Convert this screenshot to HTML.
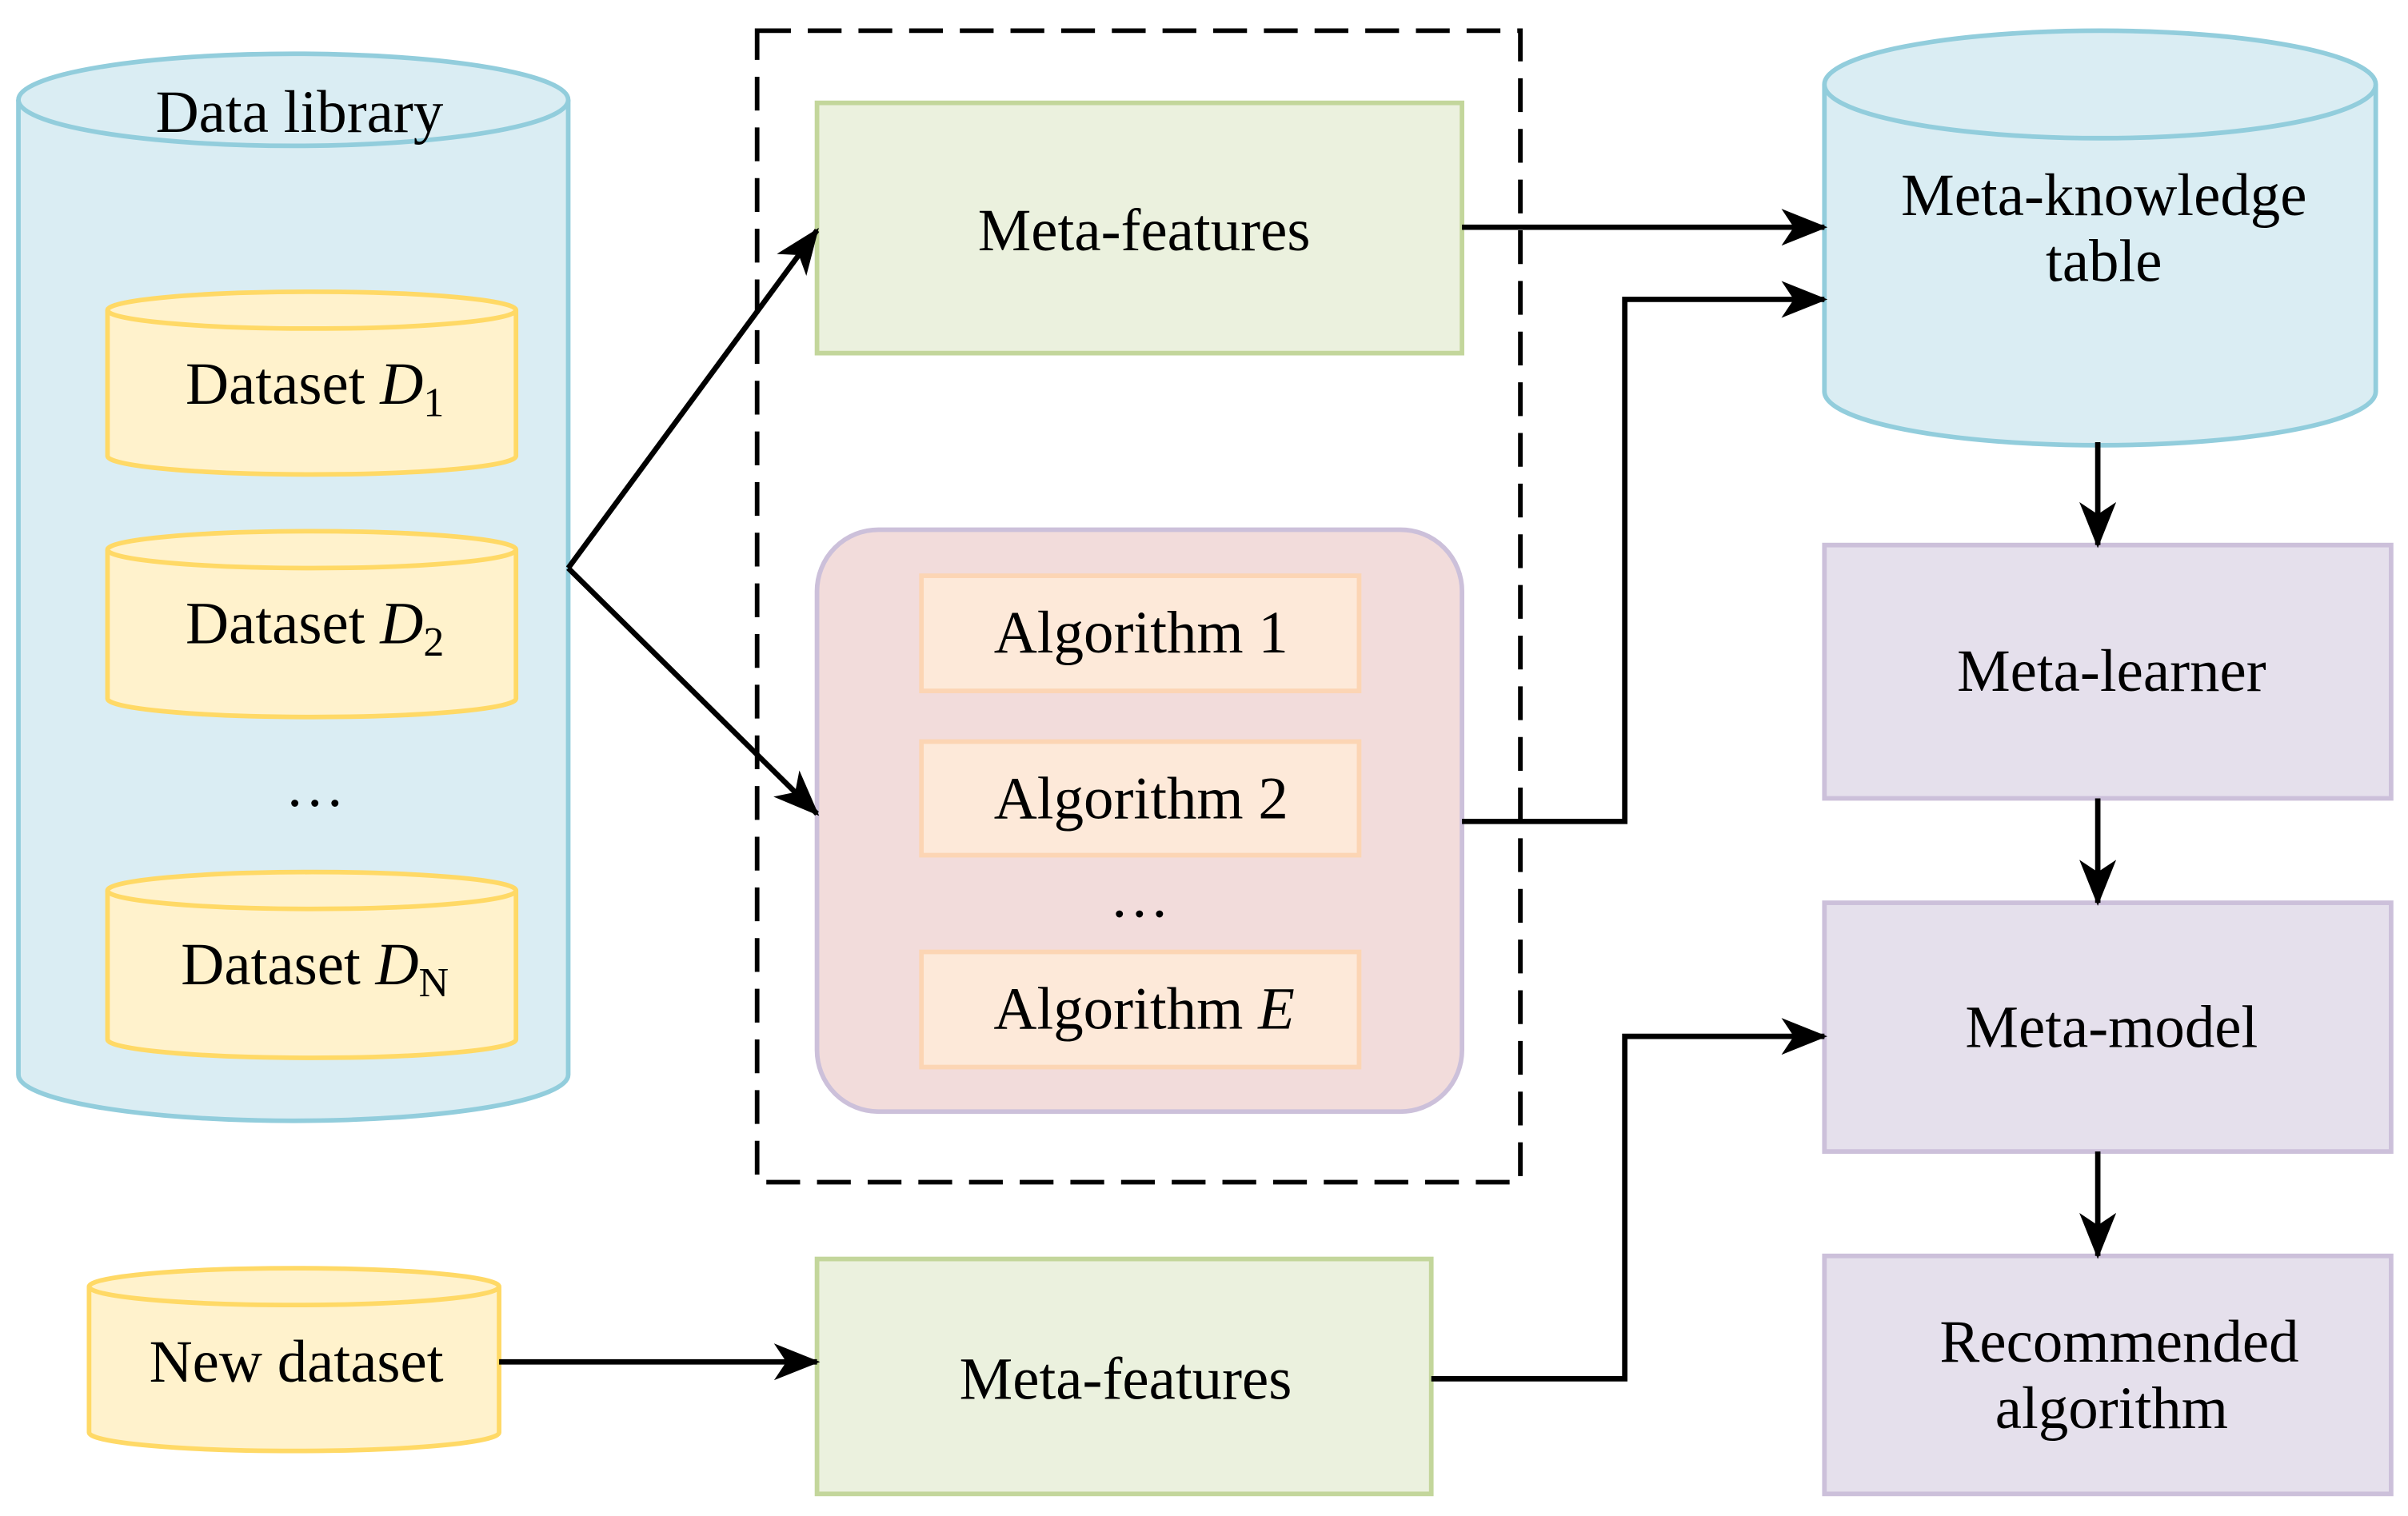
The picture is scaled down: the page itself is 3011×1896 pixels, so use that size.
<!DOCTYPE html>
<html><head><meta charset="utf-8"><style>html,body{margin:0;padding:0;background:#fff}svg{display:block}text,tspan{font-family:"Liberation Serif","Times New Roman","DejaVu Serif",serif}</style></head>
<body>
<svg width="3011" height="1896" viewBox="0 0 1568 987.4" preserveAspectRatio="none" xmlns="http://www.w3.org/2000/svg" font-size="39" text-anchor="middle">
<defs>
<marker id="ah" viewBox="0 0 30 24" refX="28" refY="12" markerWidth="30" markerHeight="24" markerUnits="userSpaceOnUse" orient="auto"><path d="M0,0 L30,12 L0,24 L8,12 Z" fill="#000"/></marker>
</defs>
<path d="M12,65 L12,700 A179,30 0 0 0 370,700 L370,65" fill="#daedf3" stroke="#92cddc" stroke-width="3"/>
<ellipse cx="191" cy="65" rx="179" ry="30" fill="#daedf3" stroke="#92cddc" stroke-width="3"/>
<text x="195" y="86">Data library</text>
<g fill="#fff2cc" stroke="#ffd966" stroke-width="3">
<path d="M70,202 L70,297 A133,12 0 0 0 336,297 L336,202"/><ellipse cx="203" cy="202" rx="133" ry="12"/>
<path d="M70,358 L70,455 A133,12 0 0 0 336,455 L336,358"/><ellipse cx="203" cy="358" rx="133" ry="12"/>
<path d="M70,580 L70,677 A133,12 0 0 0 336,677 L336,580"/><ellipse cx="203" cy="580" rx="133" ry="12"/>
<path d="M58,838 L58,933 A133,12 0 0 0 325,933 L325,838"/><ellipse cx="191.5" cy="838" rx="133.5" ry="12"/>
</g>
<text x="205" y="263">Dataset <tspan font-style="italic">D</tspan><tspan font-size="27" dy="8">1</tspan></text>
<text x="205" y="419">Dataset <tspan font-style="italic">D</tspan><tspan font-size="27" dy="8">2</tspan></text>
<text x="205" y="525">…</text>
<text x="205" y="641">Dataset <tspan font-style="italic">D</tspan><tspan font-size="27" dy="8">N</tspan></text>
<text x="193" y="900">New dataset</text>
<rect x="493" y="20" width="497" height="750" fill="none" stroke="#000" stroke-width="3" stroke-dasharray="22,11"/>
<rect x="532" y="67" width="420" height="163" fill="#ebf1de" stroke="#c3d69b" stroke-width="3"/>
<text x="745" y="163">Meta-features</text>
<rect x="532" y="820" width="400" height="153" fill="#ebf1de" stroke="#c3d69b" stroke-width="3"/>
<text x="733" y="911">Meta-features</text>
<rect x="532" y="345" width="420" height="379" rx="40" fill="#f2dcdb" stroke="#ccc0da" stroke-width="3"/>
<g fill="#fde9d9" stroke="#fcd5b4" stroke-width="3">
<rect x="600" y="375" width="285" height="75"/>
<rect x="600" y="483" width="285" height="74"/>
<rect x="600" y="620" width="285" height="75"/>
</g>
<text x="743" y="425">Algorithm 1</text>
<text x="743" y="533">Algorithm 2</text>
<text x="742" y="597">…</text>
<text x="745" y="670">Algorithm <tspan font-style="italic">E</tspan></text>
<path d="M1188,55 L1188,255 A179.5,35 0 0 0 1547,255 L1547,55" fill="#daedf3" stroke="#92cddc" stroke-width="3"/>
<ellipse cx="1367.5" cy="55" rx="179.5" ry="35" fill="#daedf3" stroke="#92cddc" stroke-width="3"/>
<text x="1370" y="140">Meta-knowledge</text>
<text x="1370" y="183">table</text>
<g fill="#e5e0ec" stroke="#ccc0da" stroke-width="3">
<rect x="1188" y="355" width="369" height="165"/>
<rect x="1188" y="588" width="369" height="162"/>
<rect x="1188" y="818" width="369" height="155"/>
</g>
<text x="1375" y="450">Meta-learner</text>
<text x="1375" y="682">Meta-model</text>
<text x="1380" y="887">Recommended</text>
<text x="1375" y="930">algorithm</text>
<g fill="none" stroke="#000" stroke-width="3.5" marker-end="url(#ah)">
<path d="M370,370 L532,150"/>
<path d="M370,370 L532,530"/>
<path d="M952,148 L1188,148"/>
<path d="M952,535 L1058,535 L1058,195 L1188,195"/>
<path d="M325,887 L532,887"/>
<path d="M932,898 L1058,898 L1058,675 L1188,675"/>
<path d="M1366,288 L1366,355"/>
<path d="M1366,520 L1366,588"/>
<path d="M1366,750 L1366,818"/>
</g>
</svg>
</body></html>
